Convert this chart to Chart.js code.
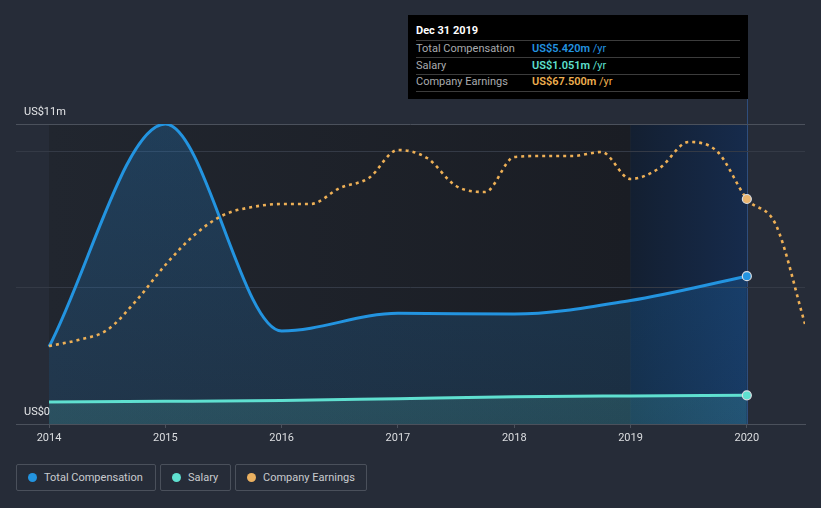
<!DOCTYPE html>
<html>
<head>
<meta charset="utf-8">
<script src="https://cdn.jsdelivr.net/npm/chart.js@4/dist/chart.umd.min.js"></script>
<style>
  html, body { margin:0; padding:0; background:#262c38; width:821px; height:508px; overflow:hidden; font-family: Roboto, "Noto Sans", sans-serif; }
  #wrap { position:absolute; left:0; top:0; width:821px; height:454px; }
  #tip { position:absolute; left:408px; top:15px; width:340px; height:84px; background:#000; }
  #tip .title { position:absolute; left:8px; top:8px; font-size:11px; font-weight:bold; color:#fff; line-height:16px; }
  #tip .sep { position:absolute; left:8px; width:324px; height:1px; background:#3c3c3c; }
  #tip .lab { position:absolute; left:8px; font-size:11px; color:#a9abae; line-height:16px; }
  #tip .val { position:absolute; left:124px; font-size:11px; line-height:16px; }
  #tip .val b { font-weight:600; }
  .leg { position:absolute; top:464px; height:27px; border:1px solid #4a505b; border-radius:2px; box-sizing:border-box; font-size:11px; color:#c9cbce; line-height:25px; }
  .leg .dot { position:absolute; left:11px; top:8px; width:9px; height:9px; border-radius:50%; }
  .leg span.t { position:absolute; left:27px; top:0; white-space:nowrap; }
</style>
</head>
<body>
<div id="wrap"><canvas id="c" width="821" height="454"></canvas></div>

<div id="tip">
  <div class="title">Dec 31 2019</div>
  <div class="sep" style="top:25px"></div>
  <div class="lab" style="top:26px">Total Compensation</div>
  <div class="val" style="top:26px;color:#2394e0"><b>US$5.420m</b> /yr</div>
  <div class="sep" style="top:42px"></div>
  <div class="lab" style="top:43px">Salary</div>
  <div class="val" style="top:43px;color:#5fe0d0"><b>US$1.051m</b> /yr</div>
  <div class="sep" style="top:59px"></div>
  <div class="lab" style="top:59px">Company Earnings</div>
  <div class="val" style="top:59px;color:#f0b050"><b>US$67.500m</b> /yr</div>
  <div class="sep" style="top:76px"></div>
</div>

<div class="leg" style="left:16px;width:140px"><div class="dot" style="background:#2394e0"></div><span class="t">Total Compensation</span></div>
<div class="leg" style="left:160px;width:71px"><div class="dot" style="background:#5fe0d0"></div><span class="t">Salary</span></div>
<div class="leg" style="left:235px;width:132px"><div class="dot" style="background:#eab060"></div><span class="t">Company Earnings</span></div>

<script>
// ---- data ----
const compYears = [2014, 2015, 2016, 2017, 2018, 2019, 2020];
const totalCompensation = [2.83, 11.0, 3.41, 4.06, 4.03, 4.53, 5.42];   // US$m
const salary = [0.81, 0.83, 0.86, 0.93, 1.0, 1.03, 1.051];               // US$m
const earningsX = [2014, 2014.25, 2014.5, 2014.75, 2015, 2015.25, 2015.5, 2015.75,
                   2016, 2016.25, 2016.5, 2016.75, 2017, 2017.25, 2017.5, 2017.75,
                   2018, 2018.25, 2018.5, 2018.75, 2019, 2019.25, 2019.5, 2019.75,
                   2020, 2020.25, 2020.5];
const companyEarnings = [23.4, 25.2, 28.2, 37.0, 47.7, 56.7, 62.7, 65.1,
                         66.0, 66.0, 70.8, 73.8, 82.2, 79.8, 71.4, 69.6,
                         80.1, 80.4, 80.4, 81.6, 73.5, 76.8, 84.6, 81.6,
                         67.5, 59.7, 30.0];                             // US$m
const xTickYears = [2014, 2015, 2016, 2017, 2018, 2019, 2020];
const yTicks = [0, 5, 10, 11];
const yTickLabels = {0: 'US$0', 11: 'US$11m'};

const pts = (xs, ys) => xs.map((x, i) => ({x: x, y: ys[i]}));
const lastOnly = (n, r) => (ctx) => ctx.dataIndex === n - 1 ? r : 0;

const bgPlugin = {
  id: 'bg',
  beforeDraw(chart) {
    const {ctx, chartArea: a, scales: {x}} = chart;
    const x14 = x.getPixelForValue(2014), x19 = x.getPixelForValue(2019), x20 = x.getPixelForValue(2020);
    ctx.save();
    let g = ctx.createLinearGradient(x14, 0, x19, 0);
    g.addColorStop(0, '#21262f');
    g.addColorStop(1, '#1a1d24');
    ctx.fillStyle = g;
    ctx.fillRect(x14, a.top, x19 - x14, a.bottom - a.top);
    g = ctx.createLinearGradient(x19, 0, x20, 0);
    g.addColorStop(0, '#131f31');
    g.addColorStop(1, '#162b4c');
    ctx.fillStyle = g;
    ctx.fillRect(x19, a.top, x20 - x19, a.bottom - a.top);
    ctx.strokeStyle = 'rgba(50,90,150,0.75)';
    ctx.lineWidth = 1;
    ctx.beginPath();
    ctx.moveTo(Math.round(x20) + 0.5, 99);
    ctx.lineTo(Math.round(x20) + 0.5, a.bottom);
    ctx.stroke();
    ctx.restore();
  }
};

function vGrad(chart, c1, c2) {
  const a = chart.chartArea;
  if (!a) return c1;
  const g = chart.ctx.createLinearGradient(0, a.top, 0, a.bottom);
  g.addColorStop(0, c1);
  g.addColorStop(1, c2);
  return g;
}

new Chart(document.getElementById('c'), {
  type: 'line',
  data: {
    datasets: [
      {
        label: 'Company Earnings',
        data: pts(earningsX, companyEarnings),
        yAxisID: 'y2',
        borderColor: '#eeb056',
        borderWidth: 2.6,
        borderDash: [3, 4],
        fill: false,
        cubicInterpolationMode: 'monotone',
        pointRadius: (ctx) => ctx.dataIndex === 24 ? 4.5 : 0,
        pointBackgroundColor: '#e9b46e',
        pointBorderColor: '#d8dce2',
        pointBorderWidth: 1.2
      },
      {
        label: 'Salary',
        data: pts(compYears, salary),
        yAxisID: 'y',
        borderColor: '#5fe0d0',
        borderWidth: 3,
        fill: 'origin',
        backgroundColor: (ctx) => vGrad(ctx.chart, 'rgba(95,225,210,0.24)', 'rgba(95,225,210,0.15)'),
        cubicInterpolationMode: 'monotone',
        pointRadius: lastOnly(compYears.length, 4.5),
        pointBackgroundColor: '#5fe0d0',
        pointBorderColor: '#d8dce2',
        pointBorderWidth: 1.2
      },
      {
        label: 'Total Compensation',
        data: pts(compYears, totalCompensation),
        yAxisID: 'y',
        borderColor: '#2394e0',
        borderWidth: 3,
        fill: 'origin',
        backgroundColor: (ctx) => vGrad(ctx.chart, 'rgba(33,150,243,0.22)', 'rgba(33,150,243,0.14)'),
        cubicInterpolationMode: 'monotone',
        pointRadius: lastOnly(compYears.length, 4.5),
        pointBackgroundColor: '#2394e0',
        pointBorderColor: '#d8dce2',
        pointBorderWidth: 1.2
      }
    ]
  },
  options: {
    responsive: false,
    animation: false,
    events: [],
    layout: { padding: { top: 124, left: 16, right: 16, bottom: 0 } },
    plugins: { legend: { display: false }, tooltip: { enabled: false } },
    scales: {
      x: {
        type: 'linear',
        min: 2013.716,
        max: 2020.5,
        afterBuildTicks: (s) => { s.ticks = xTickYears.map(v => ({value: v})); },
        afterFit: (s) => { s.height = 30; },
        grid: { display: true, drawOnChartArea: false, drawTicks: true, tickLength: 4, color: '#4b515c' },
        border: { display: true, color: '#4b515c', width: 1 },
        ticks: { color: '#dcdee1', font: { family: 'Roboto', size: 11 }, padding: 4, callback: (v) => String(v), maxRotation: 0 }
      },
      y: {
        position: 'left',
        min: 0,
        max: 11,
        afterBuildTicks: (s) => { s.ticks = yTicks.map(v => ({value: v})); },
        afterFit: (s) => { s.width = 0; },
        grid: {
          drawTicks: false,
          color: (ctx) => ctx.tick.value === 11 ? '#4b515c' : (ctx.tick.value === 0 ? 'rgba(0,0,0,0)' : '#343a46'),
          lineWidth: 1
        },
        border: { display: false },
        ticks: {
          mirror: true,
          padding: 8,
          labelOffset: -12,
          color: '#e4e6e8',
          font: { family: 'Roboto', size: 11 },
          callback: (v) => yTickLabels[v] || ''
        }
      },
      y2: { display: false, min: 0, max: 90 }
    }
  },
  plugins: [bgPlugin]
});
</script>
</body>
</html>
